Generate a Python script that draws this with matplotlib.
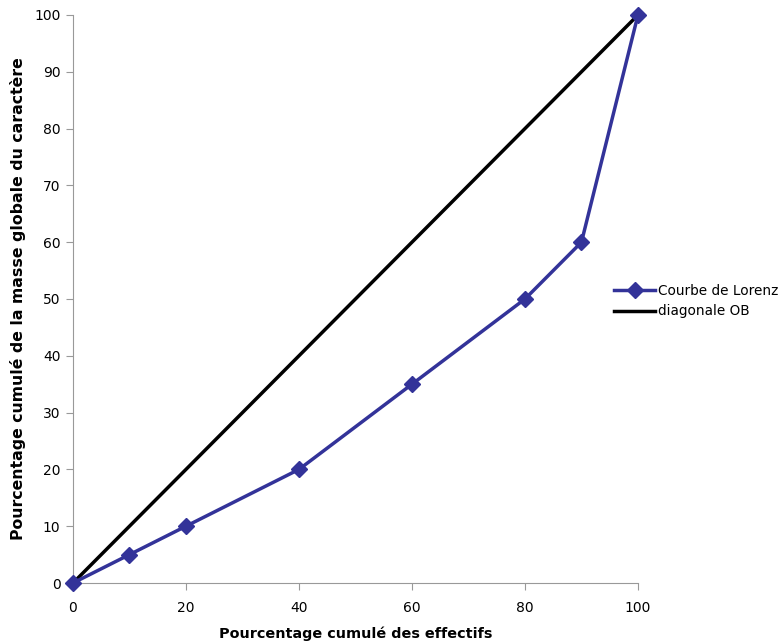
import matplotlib
matplotlib.use("Agg")
import matplotlib.pyplot as plt

x_lorenz = [0, 10, 20, 40, 60, 80, 90, 100]
y_lorenz = [0, 5, 10, 20, 35, 50, 60, 100]
x_diag = [0, 100]
y_diag = [0, 100]
x_ticks = [0, 20, 40, 60, 80, 100]
y_ticks = [0, 10, 20, 30, 40, 50, 60, 70, 80, 90, 100]

plt.rcParams['font.family'] = ['DejaVu Sans']

fig = plt.figure(figsize=(7.78, 6.43), dpi=100)
ax = fig.add_axes([0.0938, 0.0933, 0.7262, 0.8834])

ax.plot(x_lorenz, y_lorenz, color='#333399', linewidth=2.5, marker='D',
        markersize=8, label='Courbe de Lorenz', zorder=3, clip_on=False)
ax.plot(x_diag, y_diag, color='black', linewidth=2.5, label='diagonale OB',
        zorder=2, clip_on=False)

ax.set_xlim(0, 100)
ax.set_ylim(0, 100)
ax.set_xticks(x_ticks)
ax.set_yticks(y_ticks)
ax.spines['top'].set_visible(False)
ax.spines['right'].set_visible(False)
for s in ['left', 'bottom']:
    ax.spines[s].set_color('#999999')
ax.tick_params(axis='both', colors='#999999', labelcolor='black', labelsize=10,
               direction='out', length=5)
ax.tick_params(axis='x', pad=8)
ax.tick_params(axis='y', pad=4)

ax.set_xlabel('Pourcentage cumulé des effectifs', fontsize=10.4, fontweight='bold', labelpad=8)
ax.set_ylabel('Pourcentage cumulé de la masse globale du caractère', fontsize=11.3,
              fontweight='bold', labelpad=6)

fig.legend(loc='center left', bbox_to_anchor=(0.781, 0.532), frameon=False,
           fontsize=9.8, handlelength=3.0, handletextpad=0.2, labelspacing=0.5,
           borderpad=0)

fig.savefig('out.png', dpi=100)
